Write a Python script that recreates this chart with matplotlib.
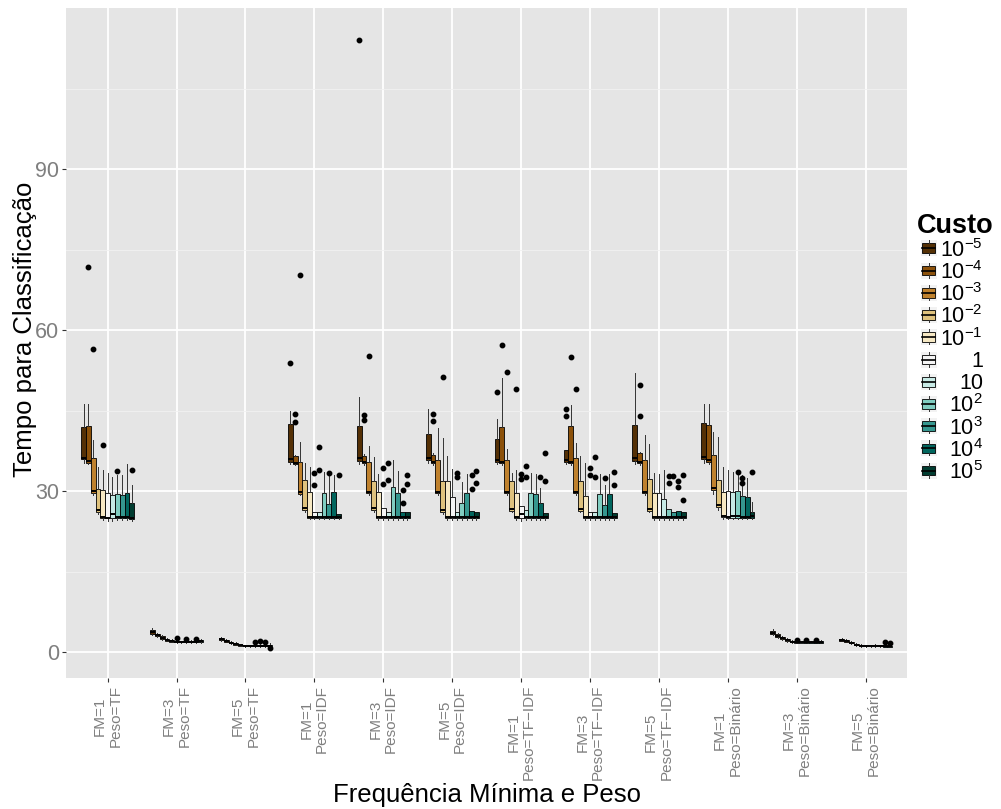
import matplotlib
matplotlib.use("Agg")
import matplotlib.pyplot as plt
from matplotlib.patches import Rectangle

plt.rcParams["font.family"] = ["Liberation Sans", "DejaVu Sans"]
plt.rcParams["mathtext.fontset"] = "custom"
plt.rcParams["mathtext.rm"] = "Liberation Sans"
plt.rcParams["mathtext.it"] = "Liberation Sans"

groups = ["FM=1\nPeso=TF", "FM=3\nPeso=TF", "FM=5\nPeso=TF",
          "FM=1\nPeso=IDF", "FM=3\nPeso=IDF", "FM=5\nPeso=IDF",
          "FM=1\nPeso=TF\u2212IDF", "FM=3\nPeso=TF\u2212IDF", "FM=5\nPeso=TF\u2212IDF",
          "FM=1\nPeso=Binário", "FM=3\nPeso=Binário", "FM=5\nPeso=Binário"]
costs = ["$10^{-5}$", "$10^{-4}$", "$10^{-3}$", "$10^{-2}$", "$10^{-1}$", "1",
         "10", "$10^{2}$", "$10^{3}$", "$10^{4}$", "$10^{5}$"]
colors = ["#543005", "#8c510a", "#bf812d", "#dfc27d", "#f6e8c3", "#f5f5f5",
          "#c7eae5", "#80cdc1", "#35978f", "#01665e", "#003c30"]

# box statistics, one row per group, one column per cost
whislo = [
    [35.2, 35.0, 29.2, 25.8, 24.6, 24.5, 24.5, 24.6, 24.6, 24.6, 24.5],
    [3.2, 2.8, 2.3, 2.0, 1.8, 1.7, 1.7, 1.7, 1.7, 1.7, 1.7],
    [2.1, 1.8, 1.5, 1.3, 1.1, 1.0, 1.0, 1.0, 1.0, 0.9, 0.9],
    [35.0, 34.8, 29.2, 26.0, 24.7, 24.7, 24.7, 24.7, 24.7, 24.7, 24.7],
    [35.0, 34.9, 29.2, 26.1, 24.6, 24.6, 24.6, 24.6, 24.6, 24.6, 24.6],
    [35.2, 34.9, 29.2, 25.8, 24.6, 24.6, 24.6, 24.6, 24.6, 24.6, 24.6],
    [35.0, 34.9, 29.2, 26.0, 24.6, 24.5, 24.6, 24.6, 24.6, 24.6, 24.6],
    [35.1, 34.9, 29.2, 26.0, 24.6, 24.6, 24.6, 24.6, 24.6, 24.6, 24.6],
    [35.1, 34.9, 29.2, 26.0, 24.6, 24.6, 24.6, 24.6, 24.6, 24.6, 24.6],
    [35.3, 35.0, 29.4, 26.4, 24.7, 24.7, 24.7, 24.7, 24.7, 24.7, 24.7],
    [3.1, 2.7, 2.2, 1.9, 1.7, 1.6, 1.6, 1.6, 1.6, 1.6, 1.6],
    [2.0, 1.8, 1.5, 1.2, 1.0, 1.0, 1.0, 1.0, 1.0, 0.9, 0.9],
]
q1 = [
    [35.9, 35.3, 29.7, 26.1, 24.9, 24.9, 24.9, 24.9, 24.9, 24.9, 24.7],
    [3.4, 2.9, 2.5, 2.1, 1.9, 1.8, 1.8, 1.8, 1.8, 1.8, 1.8],
    [2.2, 1.9, 1.6, 1.4, 1.2, 1.1, 1.1, 1.1, 1.1, 1.1, 1.1],
    [35.5, 35.0, 29.5, 26.5, 25.0, 25.0, 25.0, 25.0, 24.9, 24.9, 25.0],
    [35.6, 35.2, 29.6, 26.5, 24.9, 24.9, 24.9, 25.0, 25.0, 25.0, 24.9],
    [35.8, 35.2, 29.6, 26.1, 24.9, 24.9, 24.9, 24.9, 24.9, 24.9, 24.9],
    [35.4, 35.2, 29.6, 26.3, 24.9, 24.9, 24.9, 24.9, 24.9, 24.9, 24.9],
    [35.5, 35.2, 29.6, 26.3, 24.9, 24.9, 24.9, 24.9, 24.9, 24.9, 24.9],
    [35.6, 35.2, 29.6, 26.3, 24.9, 24.9, 24.9, 24.9, 24.9, 24.9, 24.9],
    [36.0, 35.4, 30.2, 27.0, 25.1, 25.0, 25.0, 25.0, 25.0, 25.0, 25.0],
    [3.3, 2.8, 2.4, 2.0, 1.8, 1.7, 1.7, 1.7, 1.7, 1.7, 1.7],
    [2.1, 1.9, 1.6, 1.3, 1.1, 1.1, 1.1, 1.1, 1.1, 1.0, 1.0],
]
med = [
    [36.2, 35.6, 30.0, 26.4, 25.1, 25.0, 25.8, 25.1, 25.1, 25.2, 25.0],
    [3.7, 3.1, 2.7, 2.3, 2.0, 1.9, 1.9, 1.9, 1.9, 1.9, 2.0],
    [2.4, 2.0, 1.7, 1.5, 1.3, 1.2, 1.2, 1.2, 1.2, 1.2, 1.2],
    [35.9, 35.3, 29.8, 26.8, 25.2, 25.2, 25.2, 25.2, 25.2, 25.1, 25.2],
    [36.1, 35.4, 29.9, 26.8, 25.1, 25.2, 25.2, 25.2, 25.2, 25.2, 25.2],
    [36.1, 35.4, 29.9, 26.4, 25.1, 25.1, 25.2, 25.2, 25.2, 25.2, 25.2],
    [35.8, 35.4, 29.9, 26.7, 25.1, 25.7, 25.2, 25.2, 25.2, 25.2, 25.1],
    [35.8, 35.4, 29.9, 26.6, 25.1, 25.1, 25.1, 25.1, 25.1, 25.1, 25.2],
    [36.1, 35.5, 29.9, 26.6, 25.1, 25.1, 25.1, 25.1, 25.1, 25.1, 25.1],
    [36.4, 35.7, 30.5, 27.4, 25.3, 25.2, 25.3, 25.3, 25.2, 25.2, 25.3],
    [3.6, 3.0, 2.6, 2.2, 1.9, 1.8, 1.8, 1.8, 1.8, 1.8, 1.8],
    [2.2, 2.0, 1.7, 1.4, 1.2, 1.2, 1.2, 1.2, 1.2, 1.1, 1.1],
]
q3 = [
    [41.9, 42.1, 36.1, 30.4, 30.1, 29.6, 29.2, 29.4, 29.3, 29.7, 27.8],
    [4.1, 3.4, 2.9, 2.5, 2.2, 2.0, 2.0, 2.1, 2.0, 2.1, 2.2],
    [2.6, 2.2, 1.9, 1.6, 1.4, 1.3, 1.3, 1.3, 1.3, 1.3, 1.3],
    [42.5, 36.5, 35.5, 32.0, 29.9, 26.1, 26.0, 29.6, 27.6, 29.8, 25.8],
    [42.1, 36.6, 35.5, 31.9, 29.9, 26.9, 26.0, 30.7, 29.6, 26.1, 26.0],
    [40.6, 36.8, 35.8, 31.9, 31.8, 28.8, 26.0, 27.8, 29.6, 26.3, 26.0],
    [39.6, 42.0, 35.8, 31.8, 29.7, 27.2, 26.4, 29.7, 29.5, 27.8, 25.9],
    [37.6, 42.1, 36.1, 31.9, 29.1, 26.0, 26.0, 29.4, 27.4, 29.4, 25.9],
    [42.3, 37.0, 35.8, 32.2, 29.7, 29.6, 28.6, 26.6, 26.0, 26.3, 26.1],
    [42.7, 42.3, 36.7, 32.0, 29.8, 30.0, 29.8, 30.0, 29.0, 28.8, 26.0],
    [3.9, 3.3, 2.8, 2.4, 2.1, 1.9, 1.9, 2.0, 1.9, 2.0, 2.0],
    [2.4, 2.2, 1.8, 1.5, 1.3, 1.3, 1.3, 1.3, 1.3, 1.2, 1.2],
]
whishi = [
    [46.3, 46.3, 39.5, 34.4, 34.0, 33.3, 32.7, 32.9, 32.9, 35.0, 31.2],
    [4.5, 3.6, 3.1, 2.7, 2.4, 2.2, 2.1, 2.3, 2.2, 2.2, 2.5],
    [2.8, 2.4, 2.0, 1.8, 1.5, 1.4, 1.4, 1.5, 1.5, 1.6, 1.6],
    [45.0, 36.8, 39.1, 35.3, 34.5, 26.1, 26.0, 33.6, 32.8, 33.0, 25.8],
    [47.5, 36.9, 38.4, 36.3, 33.2, 26.9, 26.0, 35.8, 33.7, 26.1, 26.0],
    [45.2, 37.0, 41.8, 39.9, 36.6, 34.1, 26.0, 31.6, 33.2, 26.3, 26.0],
    [43.5, 51.0, 37.9, 33.3, 33.9, 27.2, 26.4, 33.3, 33.2, 30.5, 25.9],
    [37.6, 46.0, 39.0, 36.6, 35.3, 26.0, 26.0, 33.2, 31.1, 33.2, 25.9],
    [51.9, 37.2, 40.5, 38.7, 33.3, 33.1, 34.0, 26.6, 26.0, 26.3, 26.1],
    [46.2, 46.2, 41.0, 40.0, 34.5, 34.0, 33.5, 33.5, 33.0, 32.5, 28.0],
    [4.2, 3.5, 3.0, 2.6, 2.3, 2.1, 2.1, 2.2, 2.1, 2.2, 2.2],
    [2.6, 2.4, 2.0, 1.7, 1.5, 1.4, 1.4, 1.5, 1.4, 1.6, 1.3],
]
fliers = [
    [[], [71.8], [56.4], [], [38.6], [], [], [33.7], [], [], [33.9]],
    [[], [], [], [], [], [2.6], [], [2.5], [], [2.5], []],
    [[], [], [], [], [], [], [], [1.9], [2.0], [1.8], [0.7]],
    [[53.9], [44.3, 42.9], [70.2], [], [], [33.4, 31.1], [38.2, 34.0], [], [33.4], [], [32.9]],
    [[114.0], [44.2, 43.2], [55.2], [], [], [34.2, 31.3], [35.3, 32.0], [], [], [30.1, 27.8], [32.9, 31.3]],
    [[], [44.4, 43.1], [], [51.3], [], [], [33.3, 32.7], [], [], [33.0, 30.4], [33.7, 31.5]],
    [[48.4], [57.3], [52.2], [], [49.0], [33.2, 32.3], [34.7, 32.6], [], [], [32.7], [37.1, 31.9]],
    [[45.2, 44.0], [55.0], [49.0], [], [], [34.2, 32.9], [36.4, 32.7], [], [32.5], [], [33.6, 31.1]],
    [[], [49.8, 44.0], [], [], [], [], [], [32.8, 31.5], [32.8], [31.9, 30.8], [33.0, 28.3]],
    [[], [], [], [], [], [], [], [33.5], [32.5, 31.5], [], [33.5]],
    [[], [], [], [], [], [2.3], [], [2.2], [], [2.3], []],
    [[], [], [], [], [], [], [], [], [], [1.9], [1.7]],
]

BG = "#E5E5E5"
fig = plt.figure(figsize=(10.01, 8.09), dpi=100)
ax = fig.add_axes([66.3 / 1001, 1 - 678 / 809, (907.1 - 66.3) / 1001, 670 / 809])
ax.set_facecolor(BG)
for s in ax.spines.values():
    s.set_visible(False)
ax.set_xlim(-0.6, 11.6)
ax.set_ylim(-4.84, 120.0)
ax.set_yticks([0, 30, 60, 90])
ax.set_yticks([15, 45, 75, 105], minor=True)
ax.set_xticks(range(12))
ax.grid(True, which="major", color="white", lw=1.3)
ax.grid(True, which="minor", axis="y", color="#F2F2F2", lw=0.6)
ax.set_axisbelow(True)

n = len(costs)
total = 0.77
w = total / n
for g in range(len(groups)):
    for i in range(n):
        st = dict(whislo=whislo[g][i], q1=q1[g][i], med=med[g][i],
                  q3=q3[g][i], whishi=whishi[g][i], fliers=fliers[g][i])
        pos = g - total / 2 + w * (i + 0.5)
        ax.bxp([st], positions=[pos], widths=w, patch_artist=True,
               showcaps=False, manage_ticks=False,
               boxprops=dict(facecolor=colors[i], edgecolor="black", lw=0.6),
               medianprops=dict(color="black", lw=1.4),
               whiskerprops=dict(color="#333333", lw=0.7),
               flierprops=dict(marker="o", markersize=3.2, markerfacecolor="black",
                               markeredgecolor="black"))

ax.set_xticklabels(groups, rotation=90, fontsize=11, color="#7F7F7F",
                   va="top", ha="center", multialignment="center",
                   linespacing=1.15)
ax.set_yticklabels(["0", "30", "60", "90"], fontsize=15.5, color="#7F7F7F")
ax.tick_params(axis="both", which="major", length=3, color="#333333", width=0.8,
               pad=2)
ax.tick_params(axis="both", which="minor", length=0)
ax.set_xlabel("Frequência Mínima e Peso", fontsize=18.5, va="center")
ax.set_ylabel("Tempo para Classificação", fontsize=18.5, va="center")
ax.xaxis.set_label_coords(0.5, -(795 - 678) / 670)
ax.yaxis.set_label_coords((25 - 66.3) / 840.8, 0.52)

# legend drawn by hand
fig.text(917 / 1001, 1 - 226 / 809, "Custo", fontsize=19.5, fontweight="bold",
         va="center", ha="left")
ys = [248.3 + 22.24 * k for k in range(n)]
for k, y in enumerate(ys):
    lax = fig.add_axes([920.5 / 1001, 1 - (y + 8) / 809, 16 / 1001, 16 / 809])
    lax.set_xlim(0, 1)
    lax.set_ylim(0, 1)
    lax.axis("off")
    lax.add_patch(Rectangle((0, 0), 1, 1, color="#F2F2F2", lw=0))
    lax.plot([0.5, 0.5], [0.0, 0.2], color="#333333", lw=0.7)
    lax.plot([0.5, 0.5], [0.8, 1.0], color="#333333", lw=0.7)
    lax.add_patch(Rectangle((0.12, 0.2), 0.76, 0.6, facecolor=colors[k],
                            edgecolor="black", lw=0.6))
    lax.plot([0.12, 0.88], [0.5, 0.5], color="black", lw=1.2)
    fig.text(983 / 1001, 1 - (y + 2) / 809, costs[k], fontsize=15.5, ha="right",
             va="center")

fig.savefig("out.png", dpi=100, facecolor="white")
